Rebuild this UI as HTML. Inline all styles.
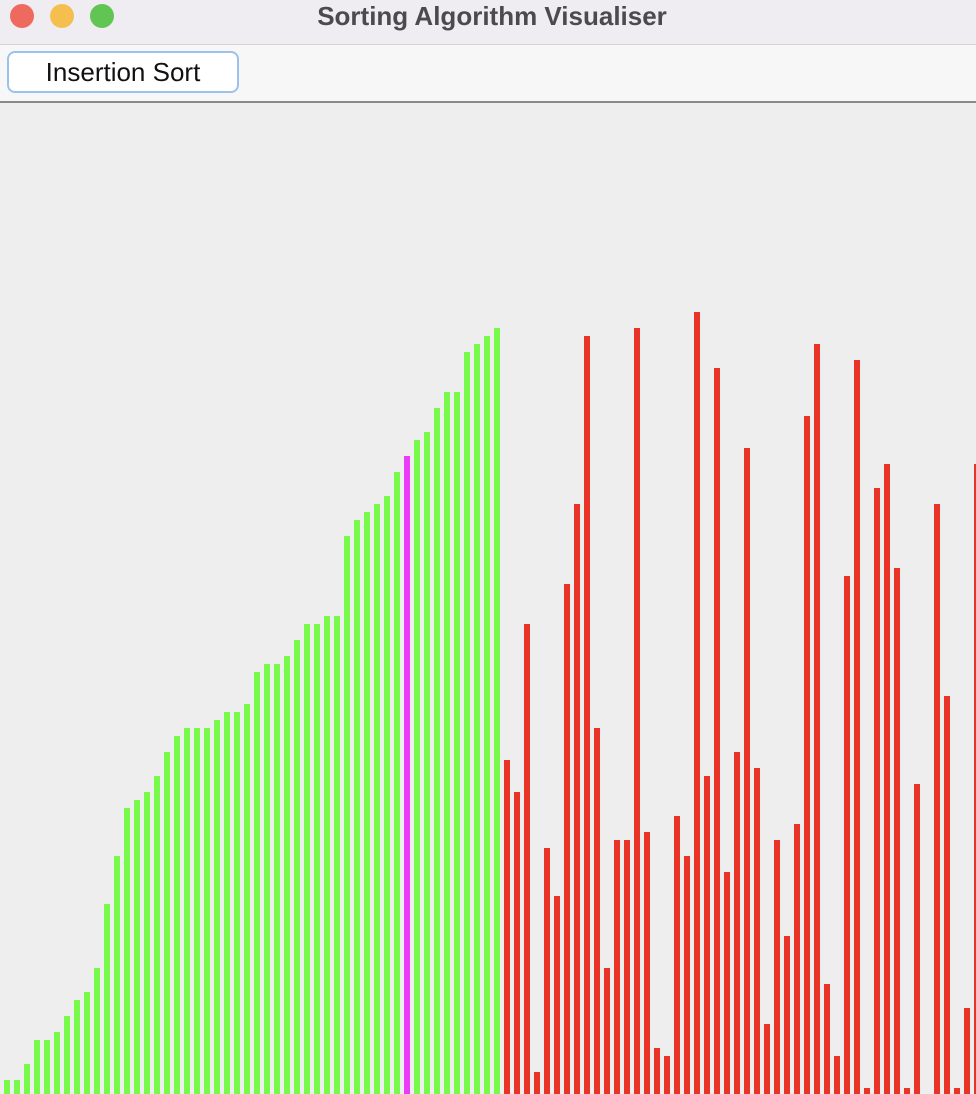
<!DOCTYPE html>
<html><head><meta charset="utf-8"><style>
body{margin:0;width:976px;height:1094px;overflow:hidden;background:#eeeeee;font-family:"Liberation Sans",sans-serif;position:relative}
#titlebar{position:absolute;left:0;top:0;width:976px;height:44px;background:#efedf1;border-bottom:1px solid #d6d4d8}
.light{position:absolute;top:4px;width:24px;height:24px;border-radius:50%}
#title{position:absolute;left:0;width:984px;top:1px;text-align:center;font-weight:bold;font-size:26px;color:#4b4a4d}
#toolbar{position:absolute;left:0;top:45px;width:976px;height:56px;background:#f7f7f7;border-bottom:2px solid #8a8a8a}
#btn{position:absolute;left:7px;top:6px;width:228px;height:38px;border:2px solid #9cc1ef;border-radius:8px;background:#fff;font-size:26px;text-align:center;line-height:38px;color:#111;box-sizing:content-box}
#chart{position:absolute;left:0;top:104px}
</style></head><body>
<div id="titlebar">
<div class="light" style="left:10px;background:#ee6a5f"></div>
<div class="light" style="left:50px;background:#f5bf4f"></div>
<div class="light" style="left:90px;background:#61c554"></div>
<div id="title">Sorting Algorithm Visualiser</div>
</div>
<div id="toolbar">
<div id="btn">Insertion Sort</div>
</div>
<svg id="chart" width="976" height="990"></svg>
<script>
const values=[14,14,30,54,54,62,78,94,102,126,190,238,286,294,302,318,342,358,366,366,366,374,382,382,390,422,430,430,438,454,470,470,478,478,558,574,582,590,598,622,638,654,662,686,702,702,742,750,758,766,
334,302,470,22,246,198,510,590,758,366,126,254,254,766,262,46,38,278,238,782,318,726,222,342,646,326,70,254,158,270,678,750,110,38,518,734,6,606,630,526,6,310,0,590,398,6,86,630];
const sortedCount=[50];
const activeIndex=[40];
const svg=document.getElementById('chart');
const H=990;
function xPos(i){return 4+10*i;}
function yPos(v){return H-v;}
values.forEach((v,i)=>{
 const r=document.createElementNS('http://www.w3.org/2000/svg','rect');
 r.setAttribute('x',xPos(i));r.setAttribute('y',yPos(v));
 r.setAttribute('width',6);r.setAttribute('height',v);
 r.setAttribute('fill',i===activeIndex[0]?'#ea3bf7':(i<sortedCount[0]?'#77fa4a':'#e93326'));
 
 
 svg.appendChild(r);
});
</script>
</body></html>
